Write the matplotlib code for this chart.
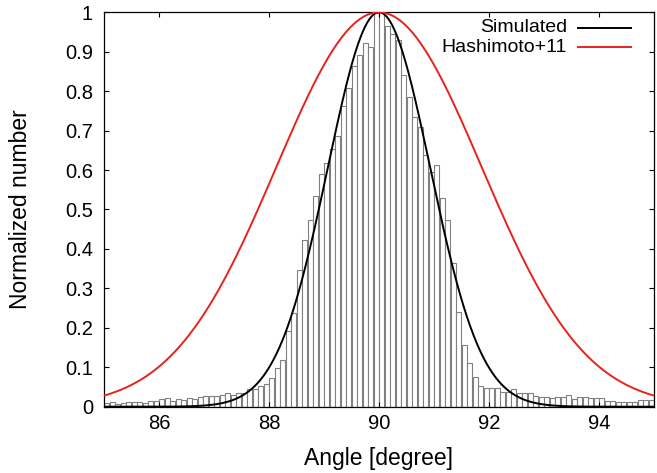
import numpy as np
import matplotlib
matplotlib.use("Agg")
import matplotlib.pyplot as plt
from matplotlib.lines import Line2D

plt.rcParams['font.family'] = ['Liberation Sans', 'DejaVu Sans']

# Histogram: bins of 0.1 degree from 85 to 95 (left edges)
bin_left = np.round(np.arange(85.0, 95.0, 0.1), 2)
hist_values = [
    0.010, 0.011, 0.008, 0.010, 0.012, 0.013, 0.012, 0.010, 0.015, 0.015,
    0.019, 0.023, 0.015, 0.020, 0.018, 0.022, 0.020, 0.025, 0.027, 0.028,
    0.028, 0.030, 0.034, 0.030, 0.036, 0.036, 0.044, 0.045, 0.053, 0.057,
    0.072, 0.097, 0.118, 0.192, 0.238, 0.347, 0.423, 0.473, 0.535, 0.590,
    0.617, 0.653, 0.687, 0.763, 0.807, 0.865, 0.892, 0.923, 0.911, 0.997,
    1.000, 0.965, 0.945, 0.930, 0.840, 0.786, 0.735, 0.710, 0.638, 0.596,
    0.613, 0.528, 0.473, 0.365, 0.241, 0.156, 0.110, 0.076, 0.052, 0.048,
    0.048, 0.048, 0.038, 0.038, 0.044, 0.034, 0.034, 0.036, 0.027, 0.024,
    0.025, 0.023, 0.024, 0.025, 0.030, 0.019, 0.025, 0.025, 0.021, 0.021,
    0.021, 0.015, 0.015, 0.013, 0.013, 0.013, 0.013, 0.017, 0.017, 0.017,
]
bin_width = 0.1

# Gaussian curves (centre, sigma), normalized to peak 1
series_names = ["Simulated", "Hashimoto+11"]
series_centre = [90.0, 90.0]
series_sigma = [0.93, 1.87]
series_colors = ["black", "#e8221b"]

x_ticks = [86, 88, 90, 92, 94]
y_ticks = [0, 0.1, 0.2, 0.3, 0.4, 0.5, 0.6, 0.7, 0.8, 0.9, 1]
y_tick_labels = ["0", "0.1", "0.2", "0.3", "0.4", "0.5", "0.6", "0.7", "0.8", "0.9", "1"]

W, H = 657, 473
fig = plt.figure(figsize=(W / 100, H / 100), dpi=100)
ax = fig.add_axes([104 / W, 1 - 406.7 / H, 550 / W, 394.4 / H])

ax.bar(bin_left, hist_values, width=bin_width, align='edge',
       facecolor='white', edgecolor='#808080', linewidth=0.8, zorder=1)

xs = np.linspace(85, 95, 800)
for name, c, s, col in zip(series_names, series_centre, series_sigma, series_colors):
    ax.plot(xs, np.exp(-(xs - c) ** 2 / (2 * s ** 2)), color=col, lw=1.4,
            zorder=3)

ax.set_xlim(85, 95)
ax.set_ylim(0, 1)
ax.set_xticks(x_ticks)
ax.set_yticks(y_ticks)
ax.set_yticklabels(y_tick_labels)
ax.tick_params(direction='in', length=3.8, width=0.8, top=True, right=True,
               labelsize=14.5)
ax.tick_params(axis='x', pad=5)
ax.tick_params(axis='y', pad=8)
for sp in ax.spines.values():
    sp.set_linewidth(0.9)

ax.set_xlabel("Angle [degree]", fontsize=16.5, labelpad=10)
ax.set_ylabel("Normalized number", fontsize=16.5, labelpad=24)

# gnuplot-style key: right-aligned text followed by a line sample
for i, (name, col) in enumerate(zip(series_names, series_colors)):
    ypx = 28 + 19.5 * i
    fig.text(567 / W, 1 - ypx / H, name, ha='right', va='center', fontsize=14)
    fig.add_artist(Line2D([578 / W, 631 / W], [1 - ypx / H, 1 - ypx / H],
                          color=col, lw=1.4, transform=fig.transFigure))

fig.savefig("out.png", dpi=100)
